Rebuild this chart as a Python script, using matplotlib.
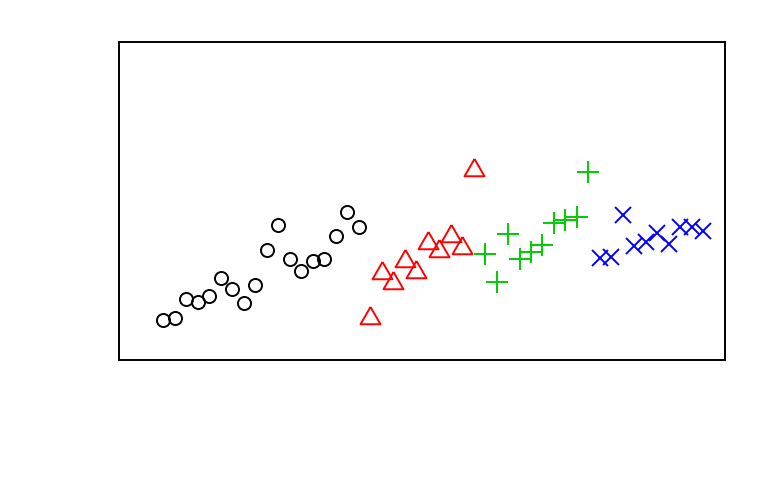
import matplotlib
matplotlib.use("Agg")
import matplotlib.pyplot as plt
import numpy as np

circle_y = [12.6, 13.1, 19.2, 18.2, 20.2, 25.8, 22.2, 18.0, 23.6, 34.6,
            42.5, 31.8, 28.1, 31.0, 31.8, 39.0, 46.5, 41.7]
triangle_y = [13.3, 27.4, 24.3, 31.1, 27.6, 36.9, 34.2, 39.0, 35.1, 59.9]
plus_y = [33.3, 24.6, 39.5, 31.8, 34.1, 36.2, 43.1, 43.9, 44.9, 59.2]
cross_y = [32.0, 32.5, 45.6, 35.9, 37.0, 39.8, 36.5, 41.9, 41.7, 40.7]

groups = [
    (circle_y, "o", "black", 9.4),
    (triangle_y, [(0, 1), (-0.866, -0.5), (0.866, -0.5), (0, 1)], "#FF0000", 16.6),
    (plus_y, "+", "#00CD00", 15.5),
    (cross_y, "x", "#0000FF", 12.0),
]

fig = plt.figure(figsize=(7.68, 4.8), dpi=100)
ax = fig.add_axes([119 / 768, 120 / 480, 606 / 768, 318 / 480])

start = 1
for ys, marker, color, ms in groups:
    xs = np.arange(start, start + len(ys))
    start += len(ys)
    ax.plot(xs, ys, linestyle="none", marker=marker, markersize=ms,
            markerfacecolor="none", markeredgecolor=color, markeredgewidth=1.4)

ax.set_xlim(-2.87, 49.89)
ax.set_ylim(0, 100)
ax.set_xticks([])
ax.set_yticks([])
for s in ax.spines.values():
    s.set_linewidth(1.4)
    s.set_color("black")

fig.savefig("out.png", dpi=100)
